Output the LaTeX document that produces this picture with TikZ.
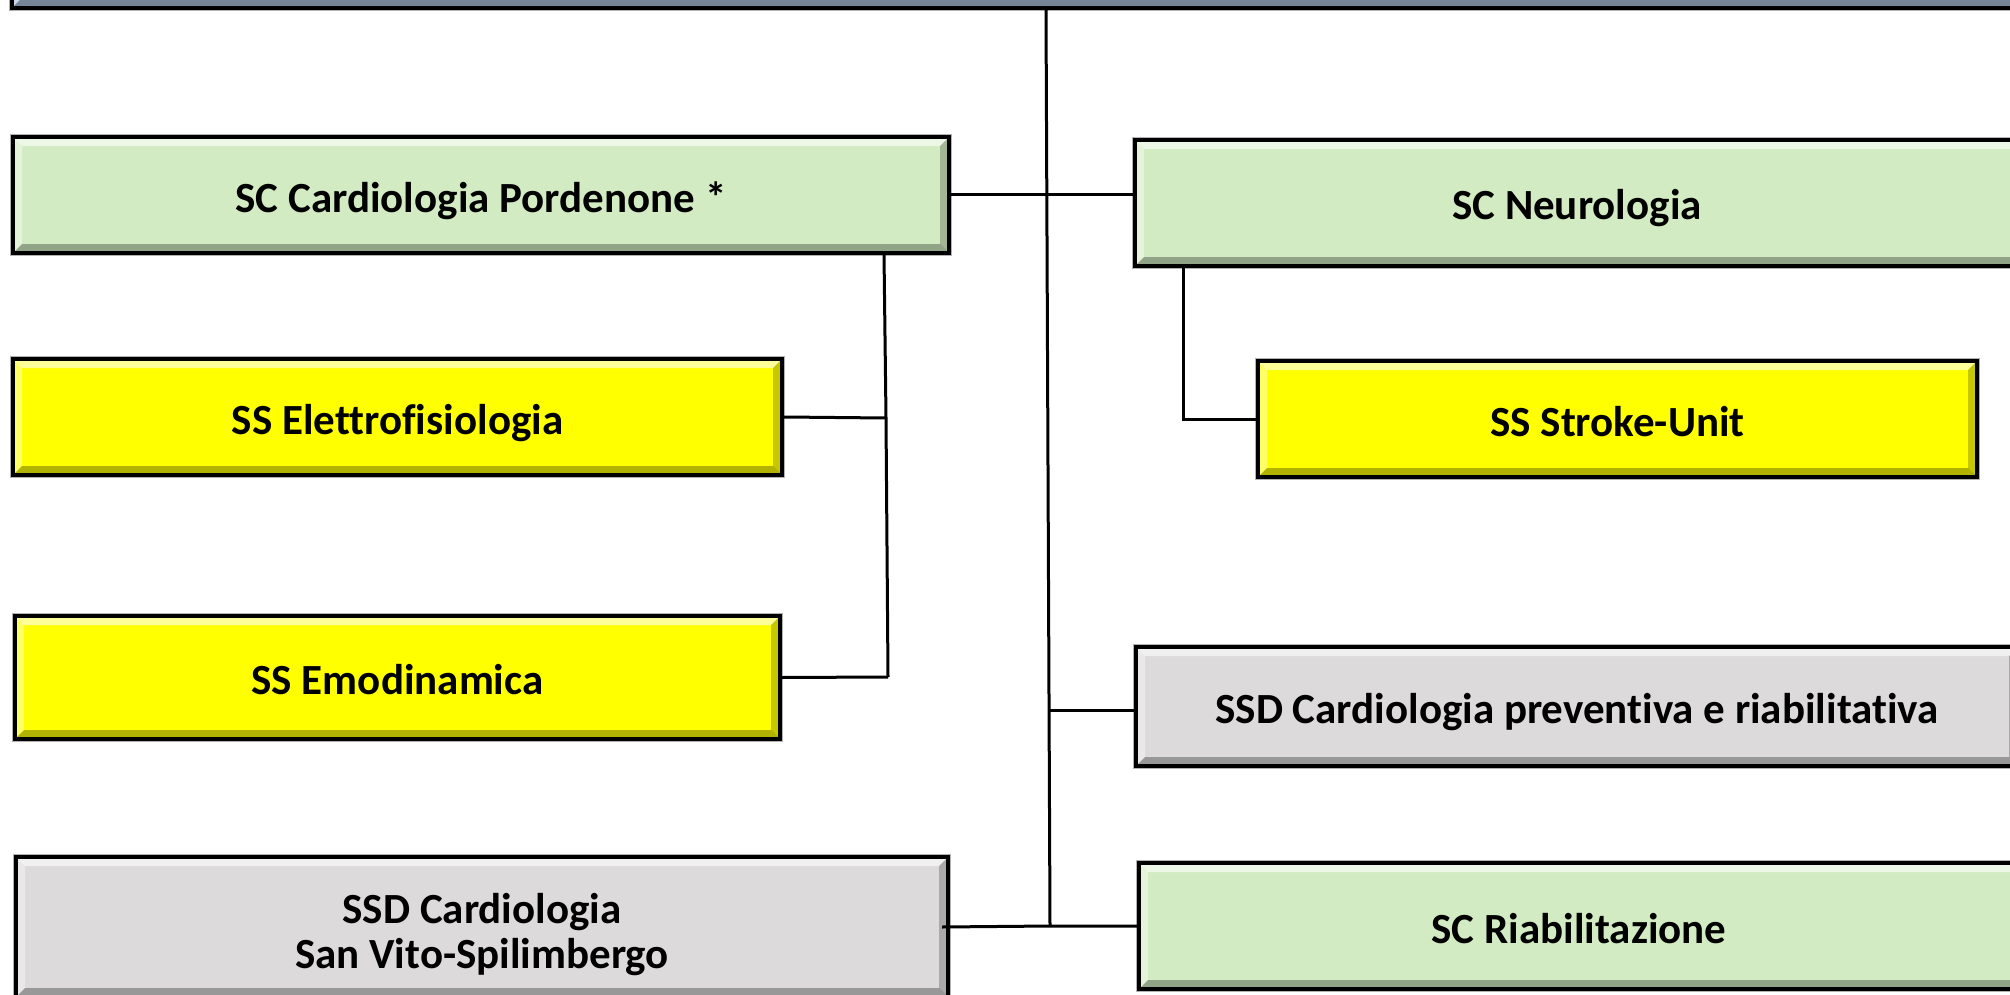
\documentclass[tikz,border=0pt]{standalone}
\usepackage{fontspec}
\setmainfont[Ligatures=NoCommon]{Carlito}
\definecolor{boxgreen}{HTML}{D2EBC2}
\definecolor{boxyellow}{HTML}{FFFF00}
\definecolor{boxgrey}{HTML}{DCDADB}
\definecolor{boxblue}{HTML}{A9C1DA}
\tikzset{
  unitbox/.style={draw=black, line width=4pt, inner sep=0pt,
    preaction={draw=gray!60, line width=6pt},
    font=\fontsize{43}{46}\selectfont\bfseries,
    path picture={
      \fill[white,opacity=0.6] (path picture bounding box.north west) -- (path picture bounding box.north east)
        -- ([xshift=-9pt,yshift=-9pt]path picture bounding box.north east) -- ([xshift=9pt,yshift=-9pt]path picture bounding box.north west) -- cycle;
      \fill[white,opacity=0.4] (path picture bounding box.north west) -- (path picture bounding box.south west)
        -- ([xshift=9pt,yshift=9pt]path picture bounding box.south west) -- ([xshift=9pt,yshift=-9pt]path picture bounding box.north west) -- cycle;
      \fill[black,opacity=0.3] (path picture bounding box.south west) -- (path picture bounding box.south east)
        -- ([xshift=-9pt,yshift=9pt]path picture bounding box.south east) -- ([xshift=9pt,yshift=9pt]path picture bounding box.south west) -- cycle;
      \fill[black,opacity=0.22] (path picture bounding box.north east) -- (path picture bounding box.south east)
        -- ([xshift=-9pt,yshift=9pt]path picture bounding box.south east) -- ([xshift=-9pt,yshift=-9pt]path picture bounding box.north east) -- cycle;
    }},
  oneline/.style={text height=43pt, text depth=9pt},
  boxtext/.style={inner sep=0pt, align=center, font=\fontsize{43}{45}\selectfont\bfseries},
  conn/.style={draw=black, line width=3pt}
}
\begin{document}
\begin{tikzpicture}[x=1pt,y=-1pt]
\useasboundingbox (0,0) rectangle (2010,995);
\fill[white] (0,0) rectangle (2010,995);
% boxes
\node[unitbox, fill=boxblue, minimum width=2086pt, minimum height=106pt] (top) at (1055,-45) {};
\node[unitbox, oneline, fill=boxgreen, minimum width=936pt, minimum height=116pt] (cardio) at (481,195) {SC Cardiologia Pordenone *};
\node[unitbox, oneline, fill=boxgreen, minimum width=884pt, minimum height=126pt] (neuro) at (1577,203) {SC Neurologia};
\node[unitbox, oneline, fill=boxyellow, minimum width=769pt, minimum height=116pt] (elettro) at (397.5,417) {SS Elettrofisiologia};
\node[unitbox, oneline, fill=boxyellow, minimum width=719pt, minimum height=116pt] (stroke) at (1617.5,419) {SS Stroke-Unit};
\node[unitbox, oneline, fill=boxyellow, minimum width=765pt, minimum height=123pt] (emo) at (397.5,677.5) {SS Emodinamica};
\node[unitbox, oneline, fill=boxgrey, minimum width=882pt, minimum height=119pt] (prev) at (1577,706.5) {SSD Cardiologia preventiva e riabilitativa};
\node[unitbox, fill=boxgrey, minimum width=932pt, minimum height=140pt] (sanvito) at (482,927) {};
\node[boxtext] (sanvitotext) at ([yshift=-8pt]sanvito.center) {SSD Cardiologia\\San Vito-Spilimbergo};
\node[unitbox, oneline, fill=boxgreen, minimum width=880pt, minimum height=126pt] (riab) at (1579,926) {SC Riabilitazione};
% junction coordinates
\coordinate (mtop) at (1046,10);
\coordinate (mbot) at (1050,926);
\coordinate (pj) at (1049,710);
\coordinate (lt) at (884,255);
\coordinate (lj1) at (886,418);
\coordinate (lj2) at (888,677);
\coordinate (nt) at (1183,268);
\coordinate (nj) at (1183,419);
% connectors
\draw[conn] (mtop) -- (mbot);
\draw[conn] (cardio.east) -- (cardio.east -| neuro.west);
\draw[conn] (lt) -- (lj1) -- (lj2);
\draw[conn] (elettro.east) -- (lj1);
\draw[conn] (emo.east) -- (lj2);
\draw[conn] (nt) -- (nj) -- (nj -| stroke.west);
\draw[conn] (pj) -- (pj -| prev.west);
\draw[conn] ([xshift=-8pt]sanvito.east) -- (mbot) -- (mbot -| riab.west);
\end{tikzpicture}
\end{document}
